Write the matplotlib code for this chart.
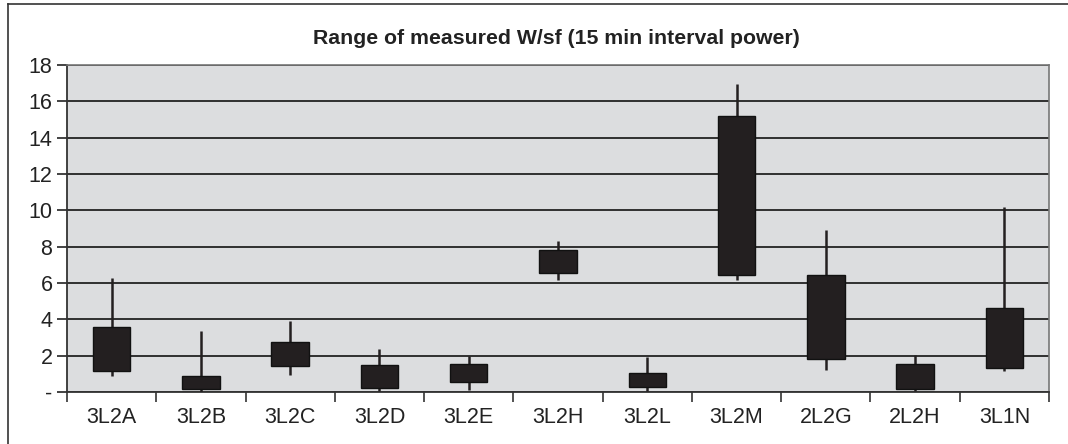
import matplotlib.pyplot as plt
from matplotlib.lines import Line2D
from matplotlib.ticker import FixedLocator, FuncFormatter

plt.rcParams["font.family"] = ["Liberation Sans", "DejaVu Sans"]

# datos de cada circuito
circuitos = ["3L2A", "3L2B", "3L2C", "3L2D", "3L2E", "3L2H", "3L2L", "3L2M", "2L2G", "2L2H", "3L1N"]
minimo = [0.9, 0.0, 0.95, 0.05, 0.13, 6.18, 0.07, 6.14, 1.19, 0.04, 1.14]
caja_baja = [1.14, 0.18, 1.41, 0.2, 0.53, 6.54, 0.27, 6.45, 1.8, 0.16, 1.3]
caja_alta = [3.57, 0.9, 2.77, 1.5, 1.56, 7.83, 1.06, 15.19, 6.45, 1.56, 4.64]
maximo = [6.27, 3.37, 3.92, 2.38, 2.0, 8.32, 1.9, 16.95, 8.89, 2.05, 10.17]
marcas_y = [0, 2, 4, 6, 8, 10, 12, 14, 16, 18]

fig = plt.figure(figsize=(10.68, 4.44), dpi=100)
ax = fig.add_axes([67 / 1068, 1 - 392 / 444, (1049 - 67) / 1068, (392 - 65) / 444])
ax.set_facecolor("#dcdddf")

x = list(range(len(circuitos)))

# bigotes
ax.vlines(x, minimo, maximo, color="#231f20", linewidth=1.8, zorder=3)

# cajas
alturas = [a - b for a, b in zip(caja_alta, caja_baja)]
ax.bar(x, alturas, bottom=caja_baja, width=0.42, color="#231f20",
       edgecolor="#111111", linewidth=1, zorder=4)

ax.set_xlim(-0.5, len(circuitos) - 0.5)
ax.set_ylim(0, 18)

ax.yaxis.set_major_locator(FixedLocator(marcas_y))
ax.yaxis.set_major_formatter(FuncFormatter(lambda v, p: "-" if v == 0 else "%d" % v))
ax.grid(axis="y", color="#222222", linewidth=1.3, zorder=1)
ax.set_axisbelow(True)

ax.set_xticks([i + 0.5 for i in range(-1, len(circuitos))])
ax.set_xticklabels([])
ax.set_xticks(x, minor=True)
ax.set_xticklabels(circuitos, minor=True)
ax.tick_params(axis="x", which="minor", length=0, pad=11, labelsize=15.5, colors="#222222")
ax.tick_params(axis="x", which="major", length=7, width=1.2, direction="out", color="#333333")
ax.tick_params(axis="y", length=7, width=1.2, direction="out", pad=3.5, labelsize=15.5,
               colors="#222222")

for lado in ["left", "bottom"]:
    ax.spines[lado].set_color("#333333")
    ax.spines[lado].set_linewidth(1.3)
for lado in ["right", "top"]:
    ax.spines[lado].set_color("#777777")
    ax.spines[lado].set_linewidth(1.2)

fig.text(556 / 1068, 1 - 39 / 444, "Range of measured W/sf (15 min interval power)",
         ha="center", va="center", fontsize=15.3, fontweight="bold", color="#222222")

# marco exterior (solo izquierda y arriba visibles)
fig.add_artist(Line2D([7.5 / 1068, 7.5 / 1068], [0, 1 - 4 / 444], color="#333333", linewidth=1.2))
fig.add_artist(Line2D([7.5 / 1068, 1], [1 - 4 / 444, 1 - 4 / 444], color="#333333", linewidth=1.2))

plt.savefig("out.png", dpi=100)
